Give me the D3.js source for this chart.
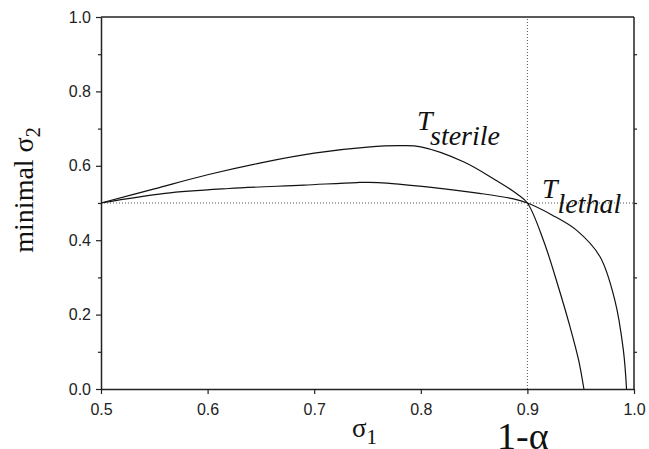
<!DOCTYPE html>
<html>
<head>
<meta charset="utf-8">
<script src="https://cdn.jsdelivr.net/npm/d3@7"></script>
<style>
  body { margin: 0; background: #fff; }
  .tick text { font-family: "Liberation Sans", Arial, sans-serif; font-size: 16px; fill: #222; }
  .serif { font-family: "Liberation Serif"; fill: #111; }
</style>
</head>
<body>
<div id="vis"></div>
<script>
// minimal sigma2 vs sigma1 for the two thresholds

var sterileX = [0.5, 0.55, 0.6, 0.65, 0.7, 0.75, 0.78, 0.8, 0.84, 0.87, 0.89, 0.9, 0.915, 0.929, 0.94, 0.948, 0.953];
var sterileY = [0.5, 0.538, 0.576, 0.608, 0.634, 0.650, 0.654, 0.651, 0.611, 0.562, 0.525, 0.5, 0.40, 0.275, 0.167, 0.078, 0.0];

var lethalX = [0.5, 0.56, 0.62, 0.69, 0.74, 0.76, 0.81, 0.855, 0.887, 0.9, 0.923, 0.946, 0.968, 0.982, 0.990, 0.993];
var lethalY = [0.5, 0.526, 0.539, 0.548, 0.555, 0.555, 0.542, 0.526, 0.511, 0.5, 0.468, 0.427, 0.356, 0.239, 0.105, 0.0];

var xTicks = [0.5, 0.6, 0.7, 0.8, 0.9, 1.0];
var yTicks = [0.0, 0.2, 0.4, 0.6, 0.8, 1.0];
var yMinor = [0.1, 0.3, 0.5, 0.7, 0.9];
var alphaLine = 0.9;   // vertical dotted guide (1 - alpha)
var halfLine = 0.5;    // horizontal dotted guide

var margin = { top: 17, right: 15, bottom: 60, left: 101 };
var width = 649 - margin.left - margin.right;
var height = 449 - margin.top - margin.bottom;

var svg = d3.select('#vis').append('svg')
  .attr('width', 649)
  .attr('height', 449);

var vis = svg.append('g')
  .attr('transform', `translate(${margin.left},${margin.top})`);

var xScale = d3.scaleLinear().domain([0.5, 1.0]).range([0, width]);
var yScale = d3.scaleLinear().domain([0, 1]).range([height, 0]);

// dotted guides
vis.append('line')
  .attr('x1', xScale(0.5)).attr('x2', xScale(1.0))
  .attr('y1', yScale(halfLine)).attr('y2', yScale(halfLine))
  .attr('stroke', '#555').attr('stroke-width', 1).attr('stroke-dasharray', '1,2');
vis.append('line')
  .attr('x1', xScale(alphaLine)).attr('x2', xScale(alphaLine))
  .attr('y1', yScale(0)).attr('y2', yScale(1))
  .attr('stroke', '#555').attr('stroke-width', 1).attr('stroke-dasharray', '1,2');

// curves
var line = d3.line()
  .x(d => xScale(d[0]))
  .y(d => yScale(d[1]))
  .curve(d3.curveCatmullRom.alpha(0.5));

[[sterileX, sterileY], [lethalX, lethalY]].forEach(function (s) {
  vis.append('path')
    .datum(d3.zip(s[0], s[1]))
    .attr('d', line)
    .attr('fill', 'none')
    .attr('stroke', '#111')
    .attr('stroke-width', 1.2);
});

// axes
var xAxis = vis.append('g')
  .attr('transform', `translate(0,${height})`)
  .call(d3.axisBottom(xScale).tickValues(xTicks).tickFormat(d3.format('.1f'))
    .tickSizeInner(5).tickSizeOuter(0).tickPadding(16));
var yAxis = vis.append('g')
  .call(d3.axisLeft(yScale).tickValues(yTicks).tickFormat(d3.format('.1f'))
    .tickSizeInner(5).tickSizeOuter(0).tickPadding(5));
vis.append('g')
  .call(d3.axisLeft(yScale).tickValues(yMinor).tickFormat('').tickSizeInner(3).tickSizeOuter(0))
  .select('.domain').remove();
vis.append('g')
  .attr('transform', `translate(${width},0)`)
  .call(d3.axisLeft(yScale).tickValues(yMinor).tickFormat('').tickSizeInner(-3).tickSizeOuter(0))
  .select('.domain').remove();

vis.selectAll('.domain').attr('stroke', '#222').attr('stroke-width', 1.5);
vis.selectAll('.tick line').attr('stroke', '#222').attr('stroke-width', 1.2);
xAxis.selectAll('.tick text').attr('dy', '0.32em');

// box top and right
vis.append('line').attr('x1', 0).attr('x2', width).attr('y1', 0).attr('y2', 0)
  .attr('stroke', '#222').attr('stroke-width', 1.5);
vis.append('line').attr('x1', width).attr('x2', width).attr('y1', 0).attr('y2', height)
  .attr('stroke', '#222').attr('stroke-width', 1.5);

// curve labels
var tS = svg.append('text').attr('class', 'serif').style('font-style', 'italic')
  .style('font-size', '28px').attr('x', 417).attr('y', 130);
tS.append('tspan').text('T');
tS.append('tspan').attr('dy', 15).text('sterile');

var tL = svg.append('text').attr('class', 'serif').style('font-style', 'italic')
  .style('font-size', '28px').attr('x', 542).attr('y', 198);
tL.append('tspan').text('T');
tL.append('tspan').attr('dy', 15).text('lethal');

// axis titles
var yl = svg.append('text').attr('class', 'serif')
  .style('font-size', '28px')
  .attr('text-anchor', 'middle')
  .attr('transform', 'translate(33,190) rotate(-90)');
yl.append('tspan').text('minimal σ');
yl.append('tspan').style('font-size', '20px').attr('dy', 7).text('2');

var xl = svg.append('text').attr('class', 'serif')
  .style('font-size', '27px')
  .attr('x', 352).attr('y', 437);
xl.append('tspan').text('σ');
xl.append('tspan').style('font-size', '21px').attr('dy', 7).text('1');

svg.append('text').attr('class', 'serif')
  .style('font-size', '38px')
  .attr('x', 497).attr('y', 449)
  .text('1-α');
</script>
</body>
</html>
